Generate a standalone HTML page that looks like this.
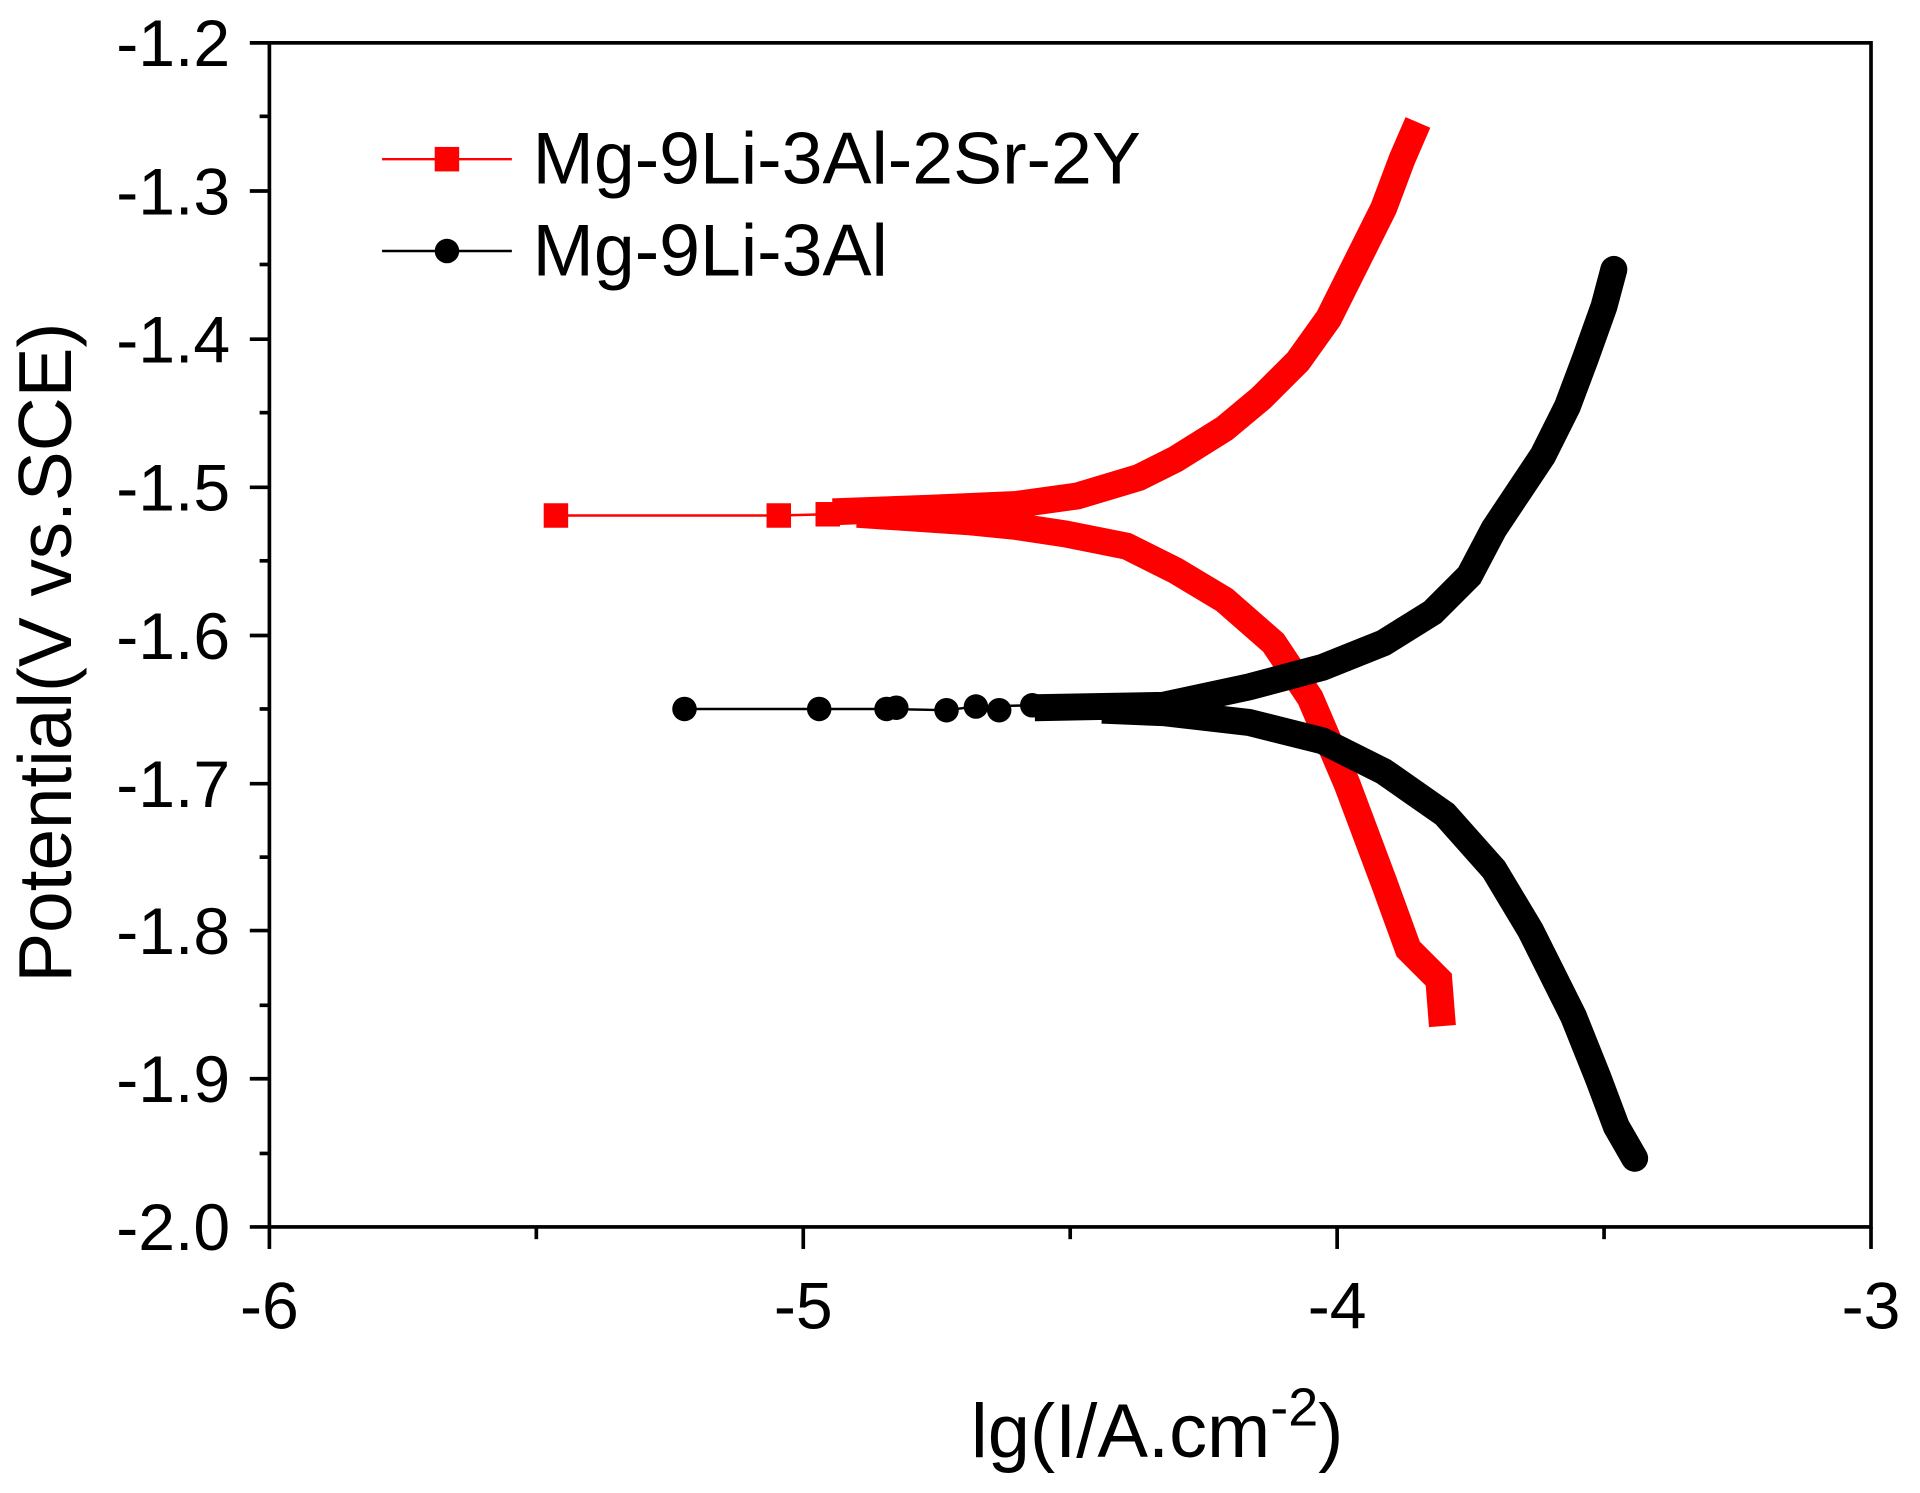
<!DOCTYPE html>
<html><head><style>html,body{margin:0;padding:0;background:#fff}svg{display:block}</style></head>
<body>
<svg width="1920" height="1493" viewBox="0 0 1568 1219.3" xmlns="http://www.w3.org/2000/svg" font-family="Liberation Sans, Arial, sans-serif">
<rect width="1568" height="1220" fill="#fff"/>
<rect x="220" y="35" width="1308" height="967" fill="none" stroke="#000" stroke-width="3"/>
<g stroke="#000" stroke-width="3">
<line x1="204" y1="35" x2="220" y2="35"/><line x1="204" y1="156" x2="220" y2="156"/><line x1="204" y1="277" x2="220" y2="277"/><line x1="204" y1="398" x2="220" y2="398"/><line x1="204" y1="519" x2="220" y2="519"/><line x1="204" y1="640" x2="220" y2="640"/><line x1="204" y1="760" x2="220" y2="760"/><line x1="204" y1="881" x2="220" y2="881"/><line x1="204" y1="1002" x2="220" y2="1002"/>
<line x1="212" y1="95" x2="220" y2="95"/><line x1="212" y1="216" x2="220" y2="216"/><line x1="212" y1="337" x2="220" y2="337"/><line x1="212" y1="458" x2="220" y2="458"/><line x1="212" y1="579" x2="220" y2="579"/><line x1="212" y1="700" x2="220" y2="700"/><line x1="212" y1="821" x2="220" y2="821"/><line x1="212" y1="942" x2="220" y2="942"/>
<line x1="220" y1="1002" x2="220" y2="1020"/><line x1="656" y1="1002" x2="656" y2="1020"/><line x1="1092" y1="1002" x2="1092" y2="1020"/><line x1="1528" y1="1002" x2="1528" y2="1020"/>
<line x1="438" y1="1002" x2="438" y2="1012"/><line x1="874" y1="1002" x2="874" y2="1012"/><line x1="1310" y1="1002" x2="1310" y2="1012"/>
</g>
<g font-size="54" text-anchor="end">
<text x="188" y="54">-1.2</text><text x="188" y="175">-1.3</text><text x="188" y="296">-1.4</text><text x="188" y="417">-1.5</text><text x="188" y="538">-1.6</text><text x="188" y="659">-1.7</text><text x="188" y="779">-1.8</text><text x="188" y="900">-1.9</text><text x="188" y="1021">-2.0</text>
</g>
<g font-size="54" text-anchor="middle">
<text x="220" y="1085">-6</text><text x="656" y="1085">-5</text><text x="1092" y="1085">-4</text><text x="1528" y="1085">-3</text>
</g>
<text x="945" y="1190" font-size="62" text-anchor="middle">lg(I/A.cm<tspan font-size="44" dy="-26">-2</tspan><tspan dy="26">)</tspan></text>
<text transform="translate(58,533) rotate(-90)" font-size="61" text-anchor="middle">Potential(V vs.SCE)</text>
<!-- red -->
<polyline points="454,421 636,421 676,420 720,418" fill="none" stroke="#f00" stroke-width="2"/>
<g fill="#f00"><rect x="444" y="411" width="20" height="20"/><rect x="626" y="411" width="20" height="20"/><rect x="666" y="410" width="20" height="20"/></g>
<polyline points="680,418 760,415 830,412 880,405 930,390 960,375 1000,350 1030,325 1060,295 1085,260 1100,230 1115,200 1130,170 1145,130 1158,100" fill="none" stroke="#f00" stroke-width="22"/>
<polyline points="700,420 790,426 830,430 870,436 920,446 960,466 1000,490 1040,525 1070,570 1100,640 1130,720 1150,775 1175,800 1178,838" fill="none" stroke="#f00" stroke-width="22"/>
<!-- black -->
<polyline points="559,579 669,579 724,579 773,580 797,577 843,576" fill="none" stroke="#000" stroke-width="2"/>
<g fill="#000"><circle cx="559" cy="579" r="10"/><circle cx="669" cy="579" r="10"/><circle cx="724" cy="579" r="10"/><circle cx="732" cy="578" r="10"/><circle cx="773" cy="580" r="10"/><circle cx="797" cy="577" r="10"/><circle cx="816" cy="580" r="10"/><circle cx="843" cy="576" r="10"/><circle cx="1318" cy="220" r="11"/><circle cx="1335" cy="946" r="11"/></g>
<polyline points="845,578 950,576 1020,561 1080,545 1130,525 1170,500 1200,470 1220,432 1240,402 1260,372 1280,332 1295,292 1310,250 1318,220" fill="none" stroke="#000" stroke-width="22"/>
<polyline points="900,580 950,582 1020,590 1080,605 1130,630 1180,665 1220,710 1250,760 1265,790 1285,830 1305,880 1320,920 1335,946" fill="none" stroke="#000" stroke-width="22"/>
<!-- legend -->
<line x1="312" y1="130" x2="418" y2="130" stroke="#f00" stroke-width="2"/><rect x="355" y="120" width="20" height="20" fill="#f00"/>
<text x="435" y="150" font-size="60">Mg-9Li-3Al-2Sr-2Y</text>
<line x1="312" y1="205" x2="418" y2="205" stroke="#000" stroke-width="2"/><circle cx="365" cy="205" r="10" fill="#000"/>
<text x="435" y="225" font-size="60">Mg-9Li-3Al</text>
</svg>
</body></html>
